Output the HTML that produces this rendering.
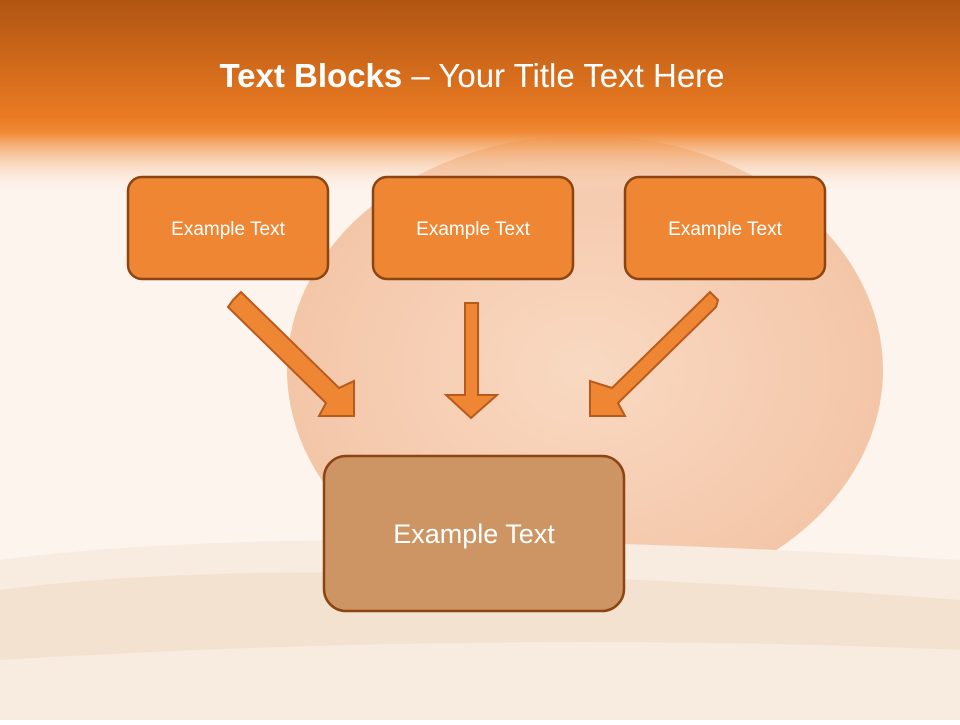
<!DOCTYPE html>
<html><head><style>
body{margin:0;width:960px;height:720px;overflow:hidden;font-family:"Liberation Sans",sans-serif}
</style></head><body>
<svg width="960" height="720" xmlns="http://www.w3.org/2000/svg">
<defs>
<linearGradient id="top" x1="0" y1="0" x2="0" y2="1">
<stop offset="0" stop-color="#b05512"/>
<stop offset="0.6" stop-color="#ea7a22"/>
<stop offset="0.68" stop-color="#f08a35"/>
<stop offset="1" stop-color="#fbeee6" stop-opacity="0"/>
</linearGradient>
<radialGradient id="pk" cx="0.5" cy="0.5" r="0.5">
<stop offset="0" stop-color="#f9d9c2"/>
<stop offset="1" stop-color="#f4c6a8"/>
</radialGradient>
</defs>
<rect width="960" height="720" fill="#fdf4ee"/>
<ellipse cx="585" cy="370" rx="298" ry="235" fill="url(#pk)"/>
<path d="M0 560 Q300 520 960 560 L960 720 L0 720Z" fill="#f8ebe0"/>
<path d="M0 590 Q300 550 960 600 L960 650 Q500 630 0 660Z" fill="#f3e2cf"/>
<rect width="960" height="195" fill="url(#top)"/>
<text x="472" y="87" text-anchor="middle" font-size="33" fill="#fff"><tspan font-weight="bold">Text Blocks</tspan> – Your Title Text Here</text>
<g stroke="#8c4412" stroke-width="2.5" fill="#ef8633">
<rect x="128" y="177" width="200" height="102" rx="14"/>
<rect x="373" y="177" width="200" height="102" rx="14"/>
<rect x="625" y="177" width="200" height="102" rx="14"/>
<rect x="324" y="456" width="300" height="155" rx="22" fill="#cc9563"/>
</g>
<g fill="#fff" font-size="19" text-anchor="middle">
<text x="228" y="235">Example Text</text>
<text x="473" y="235">Example Text</text>
<text x="725" y="235">Example Text</text>
<text x="474" y="543" font-size="27">Example Text</text>
</g>
<g fill="#ef8633" stroke="#b85a1c" stroke-width="2">
<polygon points="233,300 241,292 339,388 354,381 354,416 319,416 326,403 228,307"/>
<polygon points="465,303 478,303 478,395 497,395 471,418 446,395 465,395"/>
<polygon points="718,300 710,292 612,388 590,381 590,416 625,416 618,403 716,307"/>
</g>
</svg>
</body></html>
